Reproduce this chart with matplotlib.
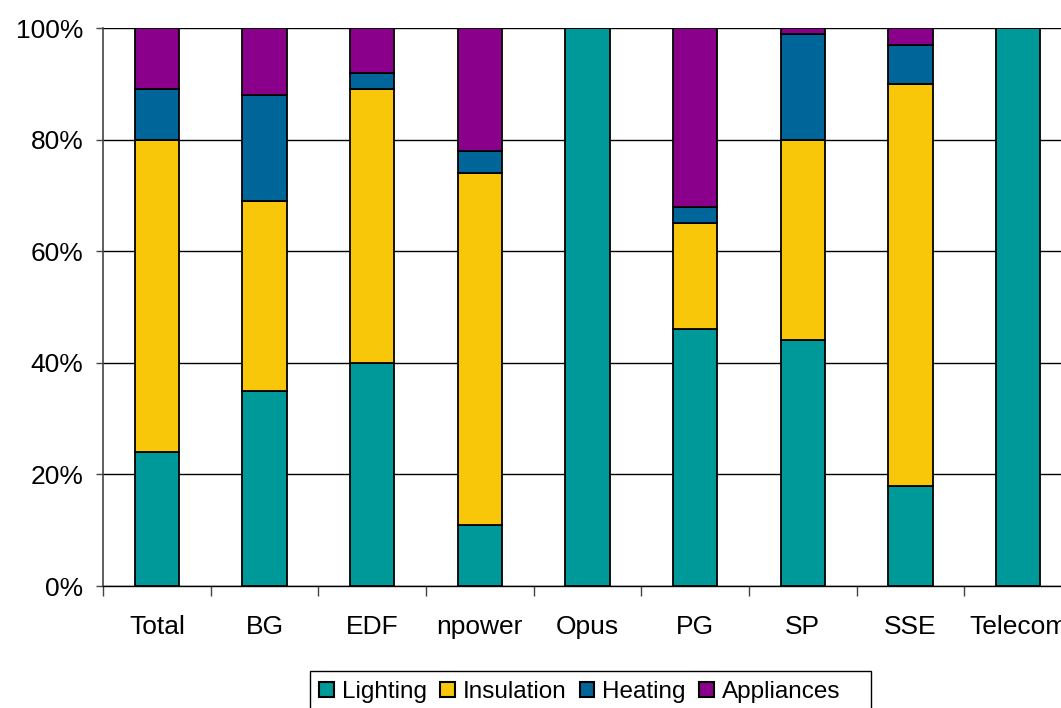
import matplotlib
matplotlib.use("Agg")
import matplotlib.pyplot as plt
import numpy as np
from matplotlib.patches import Patch, Rectangle

categories = ["Total", "BG", "EDF", "npower", "Opus", "PG", "SP", "SSE", "Telecom"]
lighting   = [24, 35, 40, 11, 100, 46, 44, 18, 100]
insulation = [56, 34, 49, 63, 0, 19, 36, 72, 0]
heating    = [9, 19, 3, 4, 0, 3, 19, 7, 0]
appliances = [11, 12, 8, 22, 0, 32, 1, 3, 0]
series_names = ["Lighting", "Insulation", "Heating", "Appliances"]
colors = ["#009999", "#F8C70A", "#006699", "#8B008B"]

plt.rcParams['font.family'] = ['Liberation Sans', 'DejaVu Sans']

W, H = 1061, 708
fig = plt.figure(figsize=(W / 100, H / 100), dpi=100)
ax = fig.add_axes([103 / W, (H - 586) / H, (1072 - 103) / W, (586 - 28) / H])

x = np.arange(len(categories))
series = [lighting, insulation, heating, appliances]
bottom = np.zeros(len(categories))
for vals, name, col in zip(series, series_names, colors):
    v = np.array(vals, dtype=float)
    ax.bar(x, v, 0.41, bottom=bottom, color=col, edgecolor="black",
           linewidth=1.3, label=name, zorder=3)
    bottom += v

ax.set_xlim(-0.5, len(categories) - 0.5)
ax.set_ylim(0, 100)
ax.set_yticks([0, 20, 40, 60, 80, 100])
ax.set_yticklabels(["0%", "20%", "40%", "60%", "80%", "100%"], fontsize=19)
ax.yaxis.grid(True, color="black", linewidth=1.0, zorder=0)
ax.set_axisbelow(True)

ax.set_xticks(x)
ax.set_xticklabels(categories, fontsize=19)
ax.tick_params(axis="x", which="major", length=0, pad=21)
ax.set_xticks(np.arange(-0.5, len(categories), 1.0), minor=True)
ax.tick_params(axis="x", which="minor", length=7, width=1, color="#444444", direction="out")
ax.tick_params(axis="y", length=5, width=1, color="#444444", pad=9)

for s in ["top", "right"]:
    ax.spines[s].set_visible(False)
ax.spines["left"].set_color("#444444")
ax.spines["left"].set_linewidth(1.2)
ax.spines["bottom"].set_color("black")
ax.spines["bottom"].set_linewidth(1.0)

# legend frame
fig.patches.append(Rectangle((310 / W, 1 - 712 / H), (871 - 310) / W, (712 - 671) / H,
                             transform=fig.transFigure, facecolor="white",
                             edgecolor="black", linewidth=1.0, zorder=1))

handles = [Patch(facecolor=c, edgecolor="black", linewidth=1.5) for c in colors]
leg = fig.legend(handles, series_names, loc="upper left",
                 bbox_to_anchor=(319 / W, 1 - 681 / H), bbox_transform=fig.transFigure,
                 ncol=4, fontsize=17.5, frameon=False,
                 handlelength=0.6, handleheight=0.6, handletextpad=0.33,
                 columnspacing=0.55, borderpad=0, borderaxespad=0)

fig.savefig("out.png", dpi=100)
